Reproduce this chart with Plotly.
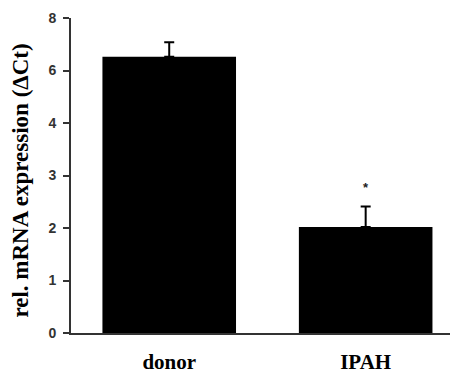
import plotly.graph_objects as go

categories = ["donor", "IPAH"]
values = [5.26, 2.02]
errors = [0.28, 0.39]
significance = ["", "*"]
tick_vals = [0, 1, 2, 3, 4, 5, 6]
tick_text = ["0", "1", "2", "3", "4", "6", "8"]
y_title = "rel. mRNA expression (ΔCt)"

fig = go.Figure()
fig.add_trace(go.Bar(
    x=categories, y=values,
    marker=dict(color="black", line=dict(width=0)),
    width=0.68,
    error_y=dict(type="data", array=errors, symmetric=False, arrayminus=[0, 0],
                 color="black", thickness=2, width=5),
))

for c, v, e, s in zip(categories, values, errors, significance):
    if s:
        fig.add_annotation(x=c, y=v + e, text=s, showarrow=False, yanchor="bottom",
                           yshift=9, font=dict(family="Liberation Sans", size=13, color="#222", weight="bold"))

fig.add_annotation(x=0, xref="paper", y=0.484, yref="paper", text=y_title, textangle=-90,
                   showarrow=False, xanchor="center", yanchor="middle", xshift=-50,
                   font=dict(family="Liberation Serif", size=23, color="black", weight="bold"))

fig.update_layout(
    width=450, height=366,
    margin=dict(l=63, r=0, t=10, b=32),
    paper_bgcolor="white", plot_bgcolor="white",
    showlegend=False,
    xaxis=dict(range=[-0.5, 1.47], showline=True, linecolor="#333", linewidth=2,
               ticks="", showgrid=False, zeroline=False,
               tickfont=dict(family="Liberation Serif", size=21, color="black", weight="bold"),
               ticklabelstandoff=9),
    yaxis=dict(range=[0, 6], showline=True, linecolor="#333", linewidth=2,
               ticks="outside", ticklen=6, tickwidth=2, tickcolor="#333",
               tickvals=tick_vals, ticktext=tick_text, showgrid=False, zeroline=False,
               tickfont=dict(family="Liberation Sans", size=14, color="#333", weight="bold"),
               ticklabelstandoff=4),
)

fig.write_html("out.html")
